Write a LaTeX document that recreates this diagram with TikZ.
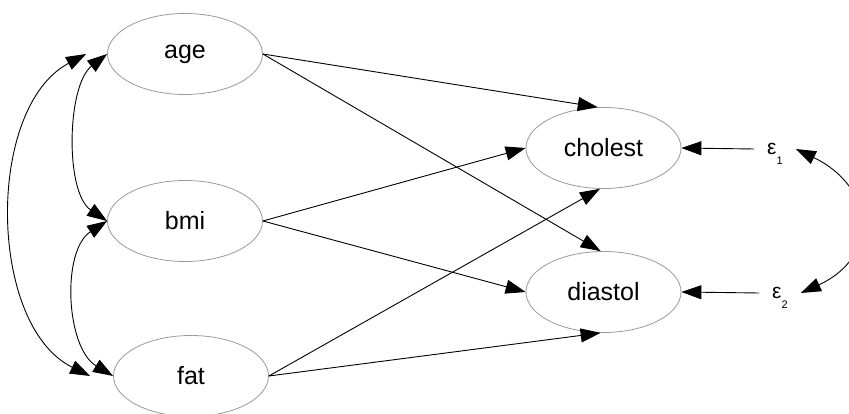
\documentclass[tikz,border=0pt]{standalone}
\usepackage{fontspec}
\setmainfont{Liberation Sans}
\usetikzlibrary{arrows.meta,shapes.geometric}
\begin{document}
\begin{tikzpicture}[x=1pt,y=1pt,
  var/.style={ellipse,draw=black!40,line width=0.8pt,minimum width=155pt,
    minimum height=81pt,inner sep=0pt,font=\fontsize{25}{25}\selectfont},
  errterm/.style={inner xsep=13pt,inner ysep=0pt,anchor=west,
    font=\fontsize{21}{21}\selectfont},
  path/.style={draw=black,line width=0.9pt,-{Triangle[length=20pt,width=14pt]}},
  cov/.style={draw=black,line width=0.9pt,
    {Triangle[length=20pt,width=14pt]}-{Triangle[length=20pt,width=14pt]}}]
\useasboundingbox (0,0) rectangle (849,414);
\clip (0,0) rectangle (849,414);

% observed variables
\node[var] (age) at (185,360) {age};
\node[var] (bmi) at (185,193) {bmi};
\node[var] (fat) at (191,38) {fat};
\node[var] (cholest) at (603.5,266) {cholest};
\node[var] (diastol) at (603.5,122) {diastol};

% error terms
\node[errterm] (e1) at (754,265) {ε\raisebox{-10pt}[0pt][0pt]{\fontsize{11}{11}\selectfont 1}};
\node[errterm] (e2) at (759,121) {ε\raisebox{-10pt}[0pt][0pt]{\fontsize{11}{11}\selectfont 2}};

% structural paths
\draw[path] (age.east) -- (cholest.98);
\draw[path] (age.east) -- (diastol.94);
\draw[path] (bmi.east) -- (cholest.west);
\draw[path] (bmi.east) -- (diastol.west);
\draw[path] (fat.east) -- (cholest.265);
\draw[path] (fat.east) -- (diastol.266);
\draw[path] (e1.west) -- (cholest.east);
\draw[path] (e2.west) -- (diastol.east);

% covariances among the exogenous variables
\draw[cov] ([xshift=-21pt]age.west) .. controls (-14.7,306.5) and (-12.3,88.2) .. ([xshift=-23pt]fat.west);
\draw[cov] (age.west) .. controls (66.8,328.6) and (64.7,221.5) .. (bmi.west);
\draw[cov] (bmi.west) .. controls (61.2,163.4) and (65.8,66.2) .. (fat.west);

% error covariance
\draw[cov] (e1.east) .. controls (875,227) and (880,157) .. (e2.east);
\end{tikzpicture}
\end{document}
